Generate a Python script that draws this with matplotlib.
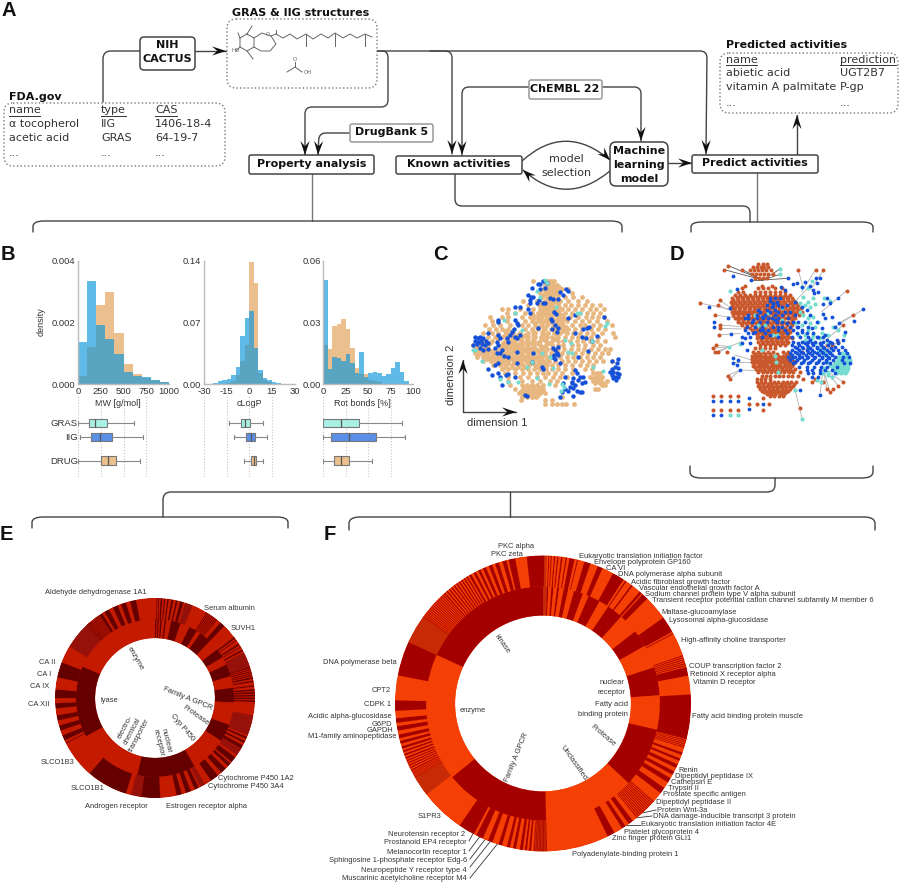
import numpy as np
import matplotlib
matplotlib.use('Agg')
import matplotlib.pyplot as plt
from matplotlib.patches import FancyBboxPatch, Polygon, PathPatch
from matplotlib.path import Path

W, H = 900, 884
plt.rcParams['font.family'] = ['Liberation Sans', 'DejaVu Sans']

TAN = '#ecc08e'
BLUE = '#0a96dc'
DOT_TAN = '#e8b67f'
DOT_BLUE = '#1450d8'
DOT_CYAN = '#74dccf'
DOT_ORANGE = '#c9582c'

# ---- panel B data
mw_edges = list(range(0, 1000, 100))
mw_blue = [.00135, .00333, .0019, .00145, .00098, .0004, .00025, .00022, .00013, .00005]
mw_tan = [.00027, .0012, .00257, .00297, .00165, .00065, .00032, .0002, .00013, .00005]
logp_edges = list(range(-27, 24, 3))
logp_blue = [.0005, .001, .003, .005, .006, .010, .019, .054, .0745, .0825, .041, .016, .0065, .0045, .002, .001, .0005]
logp_tan = [0, 0, 0, 0, .001, .003, .010, .0265, .044, .139, .115, .012, .004, .002, 0, 0, 0]
rot_edges = list(range(0, 100, 5))
rot_blue = [.0506, .0073, .013, .0125, .0113, .0146, .01, .0055, .0157, .0036, .0052, .0057, .0052, .004, .0049, .0076, .0105, .006, .0015, 0]
rot_tan = [.019, .017, .028, .029, .0316, .027, .0174, .008, .005, .005, .002, .0015, .001, 0, 0, 0, 0, 0, 0, 0]

box_names = ['GRAS', 'IIG', 'DRUG']
box_colors = ['#a8f0e4', '#5a90e8', '#ecc08e']
box_row = [0, 1, 2.7]
# each row: low whisker, q1, median, q3, high whisker
mw_box = [[0, 120, 190, 320, 610], [20, 145, 240, 375, 710], [0, 250, 325, 420, 680]]
logp_box = [[-13.4, -5.5, -2.6, 0.5, 9], [-10, -2, 1, 3.8, 12], [-3.7, 1, 3, 4.4, 9]]
rot_box = [[0, 0, 19.4, 39.5, 87], [0, 8.6, 28, 59, 90.7], [0, 12, 19.4, 28.7, 53.7]]

# ---- panel C data: {dimension-2 value: [dimension-1 values]}
c_tan = {
 32: [203, 250, 258, 268], 44: [240, 255, 265, 275], 56: [235, 250, 262, 275, 290, 310],
 68: [225, 245, 260, 272, 320], 80: [232, 250, 265, 300, 325, 352],
 92: [175, 215, 240, 255, 270, 285, 310, 338, 365],
 104: [190, 222, 238, 250, 262, 280, 300, 318, 340, 360, 380, 405],
 116: [110, 130, 165, 205, 225, 240, 255, 270, 290, 310, 330, 352, 375, 392, 418],
 128: [125, 150, 180, 200, 220, 235, 250, 265, 282, 300, 320, 345, 365, 385, 405],
 140: [75, 110, 130, 170, 195, 215, 232, 248, 262, 280, 295, 315, 340, 362, 380, 400, 418],
 152: [80, 100, 125, 180, 200, 220, 238, 255, 272, 288, 305, 330, 352, 372, 395, 425],
 164: [60, 85, 105, 135, 170, 190, 210, 228, 245, 265, 280, 295, 320, 345, 360, 385, 405, 440],
 176: [72, 92, 112, 130, 180, 200, 220, 240, 258, 275, 290, 310, 330, 350, 378, 400, 420],
 188: [55, 80, 100, 125, 145, 165, 190, 210, 230, 250, 268, 285, 305, 325, 345, 365, 385, 410, 445],
 200: [70, 90, 110, 130, 150, 170, 190, 210, 228, 245, 262, 280, 300, 320, 340, 360, 378, 400, 450],
 212: [60, 80, 120, 135, 150, 170, 190, 208, 225, 242, 260, 278, 295, 315, 335, 355, 375, 395, 420],
 224: [25, 45, 70, 110, 125, 140, 155, 172, 190, 208, 225, 242, 260, 278, 295, 320, 340, 360, 385, 405],
 236: [30, 50, 70, 115, 130, 145, 160, 178, 195, 212, 228, 245, 262, 280, 298, 318, 338, 358, 378, 400, 420, 435],
 248: [30, 50, 70, 85, 105, 122, 138, 155, 172, 190, 208, 225, 240, 258, 275, 292, 310, 330, 350, 370, 390, 410, 430],
 260: [35, 55, 75, 95, 112, 128, 145, 162, 180, 198, 215, 232, 250, 268, 285, 305, 325, 345, 365, 385, 405],
 272: [55, 78, 98, 115, 130, 148, 165, 182, 200, 218, 235, 252, 270, 290, 310, 330, 350, 372, 392, 415, 440],
 284: [85, 105, 122, 140, 158, 175, 192, 210, 228, 245, 262, 280, 300, 320, 345, 365, 385],
 296: [110, 130, 150, 170, 190, 208, 225, 242, 260, 278, 300, 325, 360, 382],
 308: [120, 150, 175, 195, 215, 235, 250, 270, 290, 320, 385, 395, 405],
 320: [130, 165, 190, 215, 240, 265, 285, 305, 375, 390, 400, 410],
 332: [130, 170, 200, 225, 255, 275, 385, 395, 425],
 344: [135, 172, 185, 200, 215, 235, 270, 410, 420],
 356: [150, 175, 190, 205, 220, 235, 400, 390],
 368: [162, 180, 195, 210, 225, 240],
 380: [170, 185, 200, 212, 290],
 390: [168, 240, 262],
 402: [240, 262, 275, 290, 302, 328],
 # denser clusters
 38: [247, 262], 50: [245, 258, 270, 282], 62: [240, 255, 268], 74: [238, 252, 262, 278], 86: [245, 258, 272], 98: [230, 247, 265, 278],
 110: [230, 248, 262, 282], 122: [230, 245, 262, 278], 134: [205, 225, 242, 258, 275, 290], 146: [205, 225, 245, 265, 282, 300], 158: [210, 232, 250, 275, 292],
 170: [215, 235, 270, 285, 302], 182: [120, 140, 205, 235, 270, 298], 194: [120, 140, 160, 180, 205, 240, 275], 206: [100, 125, 145, 165, 185, 205, 235, 270],
 218: [35, 55, 75, 115, 130, 148, 165, 182, 200, 220, 250], 230: [35, 60, 105, 120, 137, 152, 168, 185, 205, 235], 242: [40, 60, 80, 97, 112, 130, 148, 165, 182, 200, 220, 235],
 254: [40, 62, 85, 102, 118, 135, 152, 170, 188, 205, 222, 238, 262], 266: [65, 88, 105, 122, 140, 155, 172, 190, 208, 228, 245], 278: [92, 110, 128, 148, 168, 188, 205, 222, 240], 290: [120, 140, 160, 180, 215, 235],
 350: [178, 192, 208, 226], 362: [168, 185, 200, 215, 232], 374: [175, 190, 205, 220], 326: [385, 398, 408], 338: [390, 405, 415],
}
c_blue = [(235,32),(225,42),(245,38),(218,42),(200,54),(240,55),(225,58),(303,58),(310,62),(285,65),(295,75),(190,75),(198,82),(205,80),(195,90),(255,85),(265,88),(278,88),(222,90),(195,100),(235,98),(240,100),(215,100),(268,125),(272,132),(258,148),(262,152),(150,112),(165,112),(190,118),(195,130),(98,150),(100,155),(150,150),(155,158),(160,165),(148,178),(140,185),(135,195),(125,205),(165,195),(150,200),(155,205),(270,165),(278,175),(262,178),(275,185),(218,175),(310,145),(330,135),(355,178),(365,175),(372,172),(330,190),(350,200),(362,205),(395,197),(380,212),(418,140),
 (30,200),(38,205),(45,200),(55,205),(40,215),(30,212),(50,222),(60,225),(70,220),(45,235),(55,240),(68,238),(25,225),(68,190),(100,195),(105,205),(95,215),(100,225),(90,235),(110,240),(95,250),(105,248),(118,258),(130,215),(36,222),(62,212),(48,212),
 (270,240),(275,248),(268,255),(262,262),(280,255),(270,268),(265,235),(278,232),(205,248),(155,245),(130,260),(100,280),(90,285),(70,298),(80,315),(105,320),(122,315),(128,312),(150,320),(110,345),(100,310),(155,280),(230,292),(235,298),(285,280),(200,275),(370,242),(340,260),(440,272),(460,268),
 (300,320),(295,340),(330,300),(335,310),(345,320),(325,325),(355,320),(340,330),(360,335),(320,340),(330,345),(315,350),(325,355),(335,362),(345,365),(310,362),(350,365),(325,378),(290,365),(300,358),(285,380),(322,335),(350,340),
 (440,298),(450,290),(460,295),(445,305),(455,310),(462,312),(440,315),(450,320),(458,322),(445,325),(435,305),(452,330),(456,280),(185,378),(180,375)]
c_cyan = [(240,30),(245,40),(215,62),(225,80),(272,110),(150,128),(118,150),(335,128),(345,130),(425,160),(420,168),(172,180),(300,210),(318,218),(310,245),(320,250),(255,262),(230,250),(202,275),(185,290),(265,295),(30,240),(25,240),(50,272),(105,328),(130,335),(158,335),(252,342),(290,342),(298,350),(288,362),(383,292),(415,302),(382,212),(215,325)]

# ---- panel D data: nodes and edges of the network
d_orange_rows = {
 28: [190,203,215], 36: [175,185,197,208,220], 46: [165,178,190,202,214,228,88,310,385],
 58: [170,182,195,207,220,233], 70: [180,192,205,216], 92: [150,200,230],
 100: [140,190,205,218,240,260], 110: [130,145,180,195,210,225,240,255,270],
 120: [120,135,150,165,180,195,210,225,240,255,270,285], 130: [112,125,140,155,170,185,200,215,230,245,260,275,290],
 140: [108,120,135,150,165,180,195,210,225,240,255,270,285,300], 150: [68,112,125,140,155,170,185,200,215,230,245,260,280,295,310],
 160: [108,120,135,150,165,180,195,210,225,240,255,270,285,300,318], 170: [112,125,140,155,170,185,200,215,230,245,260,275,290,305,320],
 180: [60,115,130,145,160,175,190,205,220,235,250,265,280,295,312,475], 190: [120,135,150,165,180,195,210,225,240,255,270,285,300],
 200: [130,145,160,175,190,205,220,235,250,265,280,295], 210: [75,140,155,170,185,200,215,230,245,260,275,290,445],
 220: [75,150,165,180,195,210,225,240,255,270,285], 230: [180,195,210,225,240,255,270,285], 240: [72,185,200,215,230,245,260,275],
 250: [185,200,215,230,245,260,275,290], 260: [190,205,220,235,250,265,280,430], 270: [62,195,210,225,240,255,270,395,410],
 280: [55,180,195,210,225,240,340], 292: [60,70,95,175,190,205,220,235,265,280,320], 302: [172,185,198,211,224,237,250,263,276,289],
 312: [170,183,196,209,222,235,248,261,274,287], 322: [172,185,198,211,224,237,250,263,276,289,300], 332: [175,188,201,214,227,240,253,266,279,292],
 342: [182,195,208,221,234,247,260,273,286,299,425], 352: [190,203,216,229,242,255,268,281,294,315], 362: [98,200,213,226,239,252,265,278,291,310],
 372: [105,185,198,211,224,325,360], 382: [185,198,211,224,237,250,263,276,289,302,352,385,445], 392: [190,203,216,229,242,255,268,281,294,430],
 402: [195,208,221,234,247,260,273,286,395,415], 412: [208,221,234,247,260,273,405], 422: [225,238,251,264,54,79,104,129],
 447: [163,187,223], 430: [205], 464: [54,79,104,129,205], 460: [315],
 32: [100], 44: [142,362], 107: [455], 135: [75], 144: [14],
 # fill between the rows
 125: [128,143,158,173,188,203,218,233,248,263,278], 135.5: [115,130,145,160,175,190,205,220,235,250,265,280,295], 145: [118,133,148,163,178,193,208,223,238,253,268,288,303],
 155: [118,133,148,163,178,193,208,223,238,253,270,290,305], 165: [118,133,148,163,178,193,208,223,238,253,265,280,295,310], 175: [120,135,150,165,180,195,210,225,240,255,270,285,300],
 185: [128,143,158,173,188,203,218,233,248,263,290], 195: [128,143,158,173,188,203,218,233,248,263,290], 205: [138,153,168,183,198,213,228,243,258,273,288], 225: [172,188,203,218,233,248,263,278],
 235: [190,205,220,235,250,265,280], 245: [192,207,222,237,252,267,282], 255: [197,212,227,242,257,272], 265: [200,215,230,245,260,275], 297: [180,195,210,225,245,272,285],
 307: [178,191,204,217,230,243,256,269,282], 317: [176,189,202,215,228,241,254,267,280,293], 327: [178,191,204,217,230,243,256,269,282,295], 337: [181,194,207,220,233,246,259,272,285], 347: [188,201,214,227,240,253,266,279,292],
 387: [192,205,218,231,244,257,270,283,296], 397: [196,209,222,235,248,261,274,287], 407: [201,214,227,240,253,266,279], 417: [215,228,241,254,267],
}
d_blue_rows = {
 255: [345,395,425,445], 265: [310,330,350,375,410,430,165], 275: [300,320,340,365,385,420,440],
 285: [292,312,335,352,375,395,415,430,450,155], 295: [285,305,325,345,365,385,405,432,455], 305: [280,300,320,340,360,380,400,420,445,462],
 315: [285,305,328,350,372,392,415,440,128], 325: [295,318,340,362,385,405,448,465,115], 335: [312,335,358,378,395,425], 345: [335,352,375,390,410,135],
 355: [340,355,375,420], 365: [350,370], 437: [54,79,104,129], 479: [54,79], 430: [163], 462: [163], 447: [205],
 260: [295,320,340,360,385,405], 270: [290,312,335,355,378,400], 280: [305,325,345,365,388,408], 290: [300,318,338,358,380,402], 300: [292,312,332,352,372,392,412], 310: [292,312,335,358,380,402], 320: [300,325,345,368,392],
 130: [225,240,255], 150: [215,235,250,275], 170: [195,225,250,285], 180: [160,185,210,240,262,300], 190: [150,185,205,230,250,280], 200: [170,195,215,245,310], 215: [155,180,200,235,262,285,305,340], 225: [150,195,220,250,295,320], 235: [160,175,210,275,305,335,355], 245: [140,165,200,250,315,340,365,385],
}
d_blue_extra = [(279,70),(295,88),(305,85),(330,82),(320,95),(362,68),(375,70),(365,85),(345,92),(355,105),(370,112),(358,115),(397,128),(385,148),(405,145),(428,128),(478,198),(505,163),(433,203),(420,215),
 (115,63),(168,75),(127,102),(257,95),(270,105),(225,138),(235,145),(245,142),(230,155),(215,165),(240,165),(260,155),(270,170),(190,165),(160,190),(175,195),(200,185),(220,190),(240,195),(260,200),(275,205),(295,200),(310,215),(300,140),(320,155),(335,165),(345,180),(330,200),(320,230),(350,220),(365,200),(380,220),(370,245),(390,240),(150,250),(140,265),(180,230),(205,225),(225,240),(250,215),(270,225),(290,245),(115,308),(127,330),(58,200),(58,215),(98,190),(105,160),(43,155),(108,238),(375,420),(315,405),(385,178),(390,190),(410,185),(450,232)]
d_cyan = [(440,295),(452,295),(425,305),(435,305),(452,305),(430,315),(440,315),(455,315),(465,315),(420,325),(432,325),(442,325),(455,325),(412,335),(425,335),(438,335),(450,335),(418,345),(430,345),(442,345),(455,345),(425,355),(438,355),(450,355),(370,280),(385,280),(360,265),(400,265),(350,250),(375,250),(390,300),(395,320),(388,340),
 (445,300),(460,300),(433,310),(447,310),(460,310),(425,320),(437,320),(450,320),(462,320),(418,330),(430,330),(445,330),(458,330),(420,340),(435,340),(448,340),(460,340),(428,350),(440,350),(452,350),(405,290),(390,290),(370,290),(400,310),(405,330),(400,350),(385,355),(400,360),(410,365),
 (340,140),(355,130),(325,125),(330,150),(345,155),(315,170),(325,180),(345,205),(360,215),(340,225),(355,240),(330,255),(310,240),(370,200),(380,235),(400,240),
 (255,42),(255,58),(105,108),(352,78),(322,95),(340,100),(387,128),(405,138),(360,148),(315,145),(340,190),(355,185),(300,205),(320,210),(330,240),(262,158),(220,175),(190,210),(235,240),(245,240),(200,285),(240,302),(243,320),(250,350),(103,275),(135,268),(300,405),(322,493),(415,215),(430,225),(448,240),(378,380),(365,375),(180,180),(210,210),(260,195),(104,479),(129,479)]
d_edges = [((203,75),(100,32)),((203,75),(88,44)),((203,75),(142,44)),((203,75),(255,58)),((203,75),(279,70)),((203,75),(168,75)),((203,75),(255,42)),
 ((14,144),(115,165)),((60,180),(130,190)),((75,135),(115,165)),((68,150),(125,175)),((75,210),(140,215)),((72,240),(135,235)),((75,220),(140,222)),
 ((103,275),(62,270)),((103,275),(55,280)),((103,275),(70,292)),((103,275),(60,292)),((103,275),(140,260)),
 ((135,345),(98,362)),((135,345),(105,372)),((135,345),(190,347)),((455,107),(380,170)),((505,163),(420,215)),((475,180),(430,205)),((322,493),(300,405)),
 ((345,92),(290,150)),((385,46),(350,100)),((362,44),(320,110)),((310,46),(325,100)),((385,340),(375,420)),((385,340),(405,412)),((385,340),(430,392)),((385,340),(445,382)),((385,340),(395,402)),
 ((430,260),(370,300)),((445,210),(375,270)),((200,190),(235,215)),((165,170),(205,200)),((225,215),(260,240)),((180,215),(215,245)),((120,300),(170,315)),((115,320),(170,320))]

# ---- panel E data: ring segments, as (start angle, [(size, kind), ...])
e_inner = [(0, [(1.2,'D'),(.8,'L'),(1,'D'),(1,'L'),(1.2,'D'),(2,'L'),(1.2,'D'),(3.6,'L'),(7,'D'),(7,'L'),(6,'D'),(3,'L'),(9,'D'),(8,'L'),(7,'D'),(6,'L'),(9,'D'),(8.6,'L'),(10.8,'D'),(16.6,'L'),(13,'D'),(27,'L'),(43,'D'),(48,'L'),(52.5,'D'),(66.5,'L')])]
e_outer = [
 (0, [(1,'L'),(.5,'D'),(.5,'L'),(.5,'D'),(.8,'L'),(1,'D'),(1,'L'),(.7,'D'),(1.2,'L'),(.8,'D'),(1.5,'L'),(1.2,'D'),(1.5,'L'),(1,'D'),(1.5,'L'),(2,'D'),(1,'L'),(4.5,'M'),(7,'L')]),
 (31, [(.5,'D'),(.5,'L')]*8 + [(2,'L'),(3,'D'),(5,'L')]),
 (52, [(.5,'L'),(1,'D'),(1,'L'),(.5,'D'),(2,'L'),(1,'D'),(1,'L'),(.5,'D'),(1.5,'L'),(1,'D'),(1,'L')]),
 (63, [(9,'M')] + [(.6,'D'),(.6,'L')]*5 + [(1,'D'),(1,'L'),(.8,'D'),(2,'L'),(.7,'D'),(3,'L')]),
 (85, [(1,'D'),(.6,'L'),(1,'D'),(.6,'L'),(1,'D'),(.6,'L'),(1,'D'),(.6,'L'),(1,'D'),(6,'L')]),
 (100, [(12,'M'),(1,'L'),(1.2,'D'),(1.5,'L'),(1.2,'D'),(1.5,'L'),(2,'D'),(1,'M'),(3.6,'M'),(1.5,'L'),(3.5,'D'),(1,'L'),(2,'D'),(2,'L'),(3.5,'D'),(4,'L')]),
 (141, [(5,'D'),(4,'L'),(3,'M'),(1,'L'),(2.5,'D'),(2.5,'L'),(3,'D'),(2.5,'L'),(3,'D'),(3.5,'L'),(6,'L'),(11,'D'),(6,'M'),(3,'L')]),
 (197, [(24,'D'),(22,'L'),(.5,'D'),(1.5,'L'),(3,'D'),(3,'L'),(3,'D'),(3,'L'),(3,'D'),(4,'L'),(3,'D'),(3,'L'),(5,'D'),(7,'L'),(9,'D'),(10,'L'),(19,'M')]),
 (317, [(.35,'D'),(.35,'L')]*13 + [(2,'D'),(1.5,'L'),(3,'D'),(2.5,'L'),(3,'D'),(2,'L'),(3,'D'),(2.5,'L'),(3.5,'D'),(11.4,'L')]),
]

# ---- panel F data
f_inner = [(0, [(2,'M'),(.7,'D'),(1.5,'L'),(1,'D'),(1.8,'L'),(1,'D'),(2.3,'L'),(2.2,'D'),(3,'L'),(4.5,'D'),(3,'L'),(6,'D'),(5,'L'),(8,'D'),(10,'L'),(8.5,'D'),(11.5,'L'),(14,'D'),(17,'L'),(30,'D'),(45.5,'L'),(52.5,'D'),(63.6,'L'),(65.4,'D')])]
f_outer = [
 (0, [(1.5,'M'),(.6,'L'),(.4,'D'),(.6,'L'),(.4,'D'),(.8,'L'),(.5,'D'),(.8,'L'),(.5,'D'),(1,'L'),(.6,'D'),(1.2,'L'),(.5,'D'),(1,'L'),(2,'D'),(1,'L'),(.4,'D'),(2.5,'L'),(2.5,'D'),(3,'L'),(2,'D'),(4.5,'L'),(4.8,'D'),(.8,'L'),(.5,'D'),(2.3,'L'),(.7,'D'),(3.5,'L'),(1,'D'),(.5,'L'),(2.5,'D'),(9.5,'L')]),
 (54.5, [(6.5,'D'),(.6,'L'),(.4,'D'),(9,'L')]),
 (71, [(.4,'D'),(.4,'L')]*6 + [(3.4,'D'),(7.5,'L')]),
 (86.5, [(17.2,'D')]),
 (103.7, [(.35,'D'),(.35,'L')]*6 + [(1.5,'L'),(1,'D'),(1.5,'L'),(1,'D'),(1.5,'L'),(1.5,'D'),(1.5,'L'),(1.5,'D'),(1.5,'L'),(2,'D'),(2.5,'L'),(2.5,'D'),(4,'L')]),
 (131.5, [(.4,'D'),(.4,'L')]*12 + [(1.5,'L'),(2,'D'),(1.5,'L'),(1.6,'D'),(3.4,'L'),(3,'D'),(24.5,'L')]),
 (178.5, [(.3,'D'),(.3,'M')]*9 + [(.8,'L'),(.8,'D'),(.8,'L'),(.8,'D'),(.8,'L'),(1.2,'D'),(1.5,'L'),(1.2,'D'),(1.2,'L'),(1.2,'D'),(2,'L'),(1.4,'D'),(2.5,'L'),(1.8,'D'),(2.2,'L'),(2.8,'D'),(1,'L'),(6.5,'D'),(17,'L')]),
 (232, [(8,'M')] + [(.3,'D'),(.3,'L')]*5 + [(.5,'D'),(.5,'L')]*5 + [(.7,'D'),(.7,'L')]*3 + [(1,'D'),(1,'L'),(1.2,'D'),(1,'L'),(1.5,'D'),(1.5,'L'),(1.8,'D'),(1.3,'L'),(1.8,'D'),(3.9,'L')]),
 (267.2, [(4.1,'D'),(9.7,'L'),(13.6,'D'),(11.4,'M')]),
 (306, [(.4,'D'),(.4,'L')]*15 + [(.6,'D'),(.6,'L')]*10 + [(1,'D'),(1,'L')]*3 + [(1.3,'D'),(1.2,'L'),(1.4,'D'),(1.2,'L'),(1.5,'D'),(1.5,'L'),(1.6,'D'),(.8,'L'),(2.7,'D'),(4.5,'L'),(6.7,'D')]),
]

# ---- labels
e_labels = [('Aldehyde dehydrogenase 1A1',96,592,'center'),('Serum albumin',204,608,'left'),('SUVH1',231,628,'left'),('CA II',55,662,'right'),('CA I',51,674,'right'),('CA IX',49,686,'right'),('CA XII',49,705,'right'),('SLCO1B3',74,763,'right'),('SLCO1B1',104,788,'right'),('Androgen receptor',116,806,'center'),('Estrogen receptor alpha',206,806,'center'),('Cytochrome P450 1A2',218,779,'left'),('Cytochrome P450 3A4',208,787,'left')]
e_inner_labels = [('enzyme',135,659,-60),('lyase',109,700,0),('electro-\nchemical\ntransporter',132,731,62),('nuclear\nreceptor',162,742,-76),('Cyp P450',182,727,-50),('Protease',196,715,-35),('Family A GPCR',188,699,-22)]
f_labels = [('PKC alpha',516,546,'center'),('PKC zeta',507,555,'center'),('DNA polymerase beta',397,663,'right'),('CPT2',391,691,'right'),('CDPK 1',391,705,'right'),('Acidic alpha-glucosidase',392,716,'right'),('G6PD',392,724,'right'),('GAPDH',393,731,'right'),('M1-family aminopeptidase',396,737,'right'),('S1PR3',441,816,'right'),
 ('Neurotensin receptor 2',465,834,'right'),('Prostanoid EP4 receptor',467,843,'right'),('Melanocortin receptor 1',467,852,'right'),('Sphingosine 1-phosphate receptor Edg-6',467,861,'right'),('Neuropeptide Y receptor type 4',467,870,'right'),('Muscarinic acetylcholine receptor M4',467,879,'right'),
 ('Polyadenylate-binding protein 1',572,854,'left'),('Zinc finger protein GLI1',612,839,'left'),('Platelet glycoprotein 4',624,833,'left'),('Eukaryotic translation initiation factor 4E',641,825,'left'),('DNA damage-inducible transcript 3 protein',653,817,'left'),('Protein Wnt-3a',657,810,'left'),('Dipeptidyl peptidase II',656,803,'left'),('Prostate specific antigen',663,795,'left'),('Trypsin II',668,788,'left'),('Cathepsin E',671,782,'left'),('Dipeptidyl peptidase IX',675,776,'left'),('Renin',678,770,'left'),
 ('Fatty acid binding protein muscle',692,716,'left'),('Vitamin D receptor',693,683,'left'),('Retinoid X receptor alpha',690,674,'left'),('COUP transcription factor 2',689,667,'left'),('High-affinity choline transporter',681,641,'left'),('Lysosomal alpha-glucosidase',669,621,'left'),('Maltase-glucoamylase',661,612,'left'),('Transient receptor potential cation channel subfamily M member 6',652,601,'left'),('Sodium channel protein type V alpha subunit',645,594,'left'),('Vascular endothelial growth factor A',639,588,'left'),('Acidic fibroblast growth factor',631,582,'left'),('DNA polymerase alpha subunit',618,575,'left'),('CA VI',606,569,'left'),('Envelope polyprotein GP160',594,563,'left'),('Eukaryotic translation initiation factor',579,556,'left')]
f_inner_labels = [('kinase',502,644,-55),('enzyme',473,710,0),('Family A GPCR',517,757,68),('Unclassified',573,763,-55),('Protease',603,736,-40)]


def add_ax(x, y, w, h, **kw):
    return plt.gcf().add_axes([x / W, 1 - (y + h) / H, w / W, h / H], **kw)


fig = plt.figure(figsize=(9, 8.84), dpi=100)
ov = fig.add_axes([0, 0, 1, 1])
ov.set_xlim(0, W)
ov.set_ylim(H, 0)
ov.axis('off')

LC = '#444444'


def rounded(pts, r=8):
    verts, codes = [pts[0]], [Path.MOVETO]
    for i in range(1, len(pts) - 1):
        p0, p1, p2 = [np.array(p, float) for p in pts[i - 1:i + 2]]
        a = p1 - p0
        b = p2 - p1
        ra = min(r, np.linalg.norm(a) / 2)
        rb = min(r, np.linalg.norm(b) / 2)
        verts += [tuple(p1 - a / np.linalg.norm(a) * ra), tuple(p1), tuple(p1 + b / np.linalg.norm(b) * rb)]
        codes += [Path.LINETO, Path.CURVE3, Path.CURVE3]
    verts.append(pts[-1])
    codes.append(Path.LINETO)
    return Path(verts, codes)


def line(pts, r=8, color=LC, lw=1.0):
    ov.add_patch(PathPatch(rounded(pts, r), fill=False, ec=color, lw=lw, capstyle='round'))


def head(tip, frm, L=14, w=4.6):
    tip = np.array(tip, float)
    d = tip - np.array(frm, float)
    d /= np.linalg.norm(d)
    n = np.array([-d[1], d[0]])
    ov.add_patch(Polygon([tip, tip - d * L + n * w, tip - d * L * .62, tip - d * L - n * w], closed=True, fc='#111111', ec='none', zorder=5))


def arrow(pts, r=8):
    line(pts, r)
    head(pts[-1], pts[-2])


def box(x0, y0, x1, y1, ls='-', ec='#444444', lw=1.1, r=4):
    ov.add_patch(FancyBboxPatch((x0, y0), x1 - x0, y1 - y0, boxstyle=f'round,pad=0,rounding_size={r}', fc='white', ec=ec, lw=lw, ls=ls, zorder=3))


def txt(x, y, s, size=8, w='normal', c='#333333', ha='left', rot=0, fam='DejaVu Sans', **kw):
    ov.text(x, y, s, fontsize=size, fontweight=w, color=c, ha=ha, va='center', rotation=rot, family=fam, zorder=6, rotation_mode='anchor' if rot else 'default', **kw)


def btxt(x, y, s, size=8, ha='center'):
    txt(x, y, s, size=size, w='bold', c='#111111', ha=ha)


# --- connectors
line([(103, 102), (103, 51), (140, 51)])
arrow([(195, 51), (226, 51)])
arrow([(377, 51), (707, 51), (706, 154)], r=7)
arrow([(377, 51), (388, 51), (388, 107), (305, 107), (305, 155)], r=7)
arrow([(430, 51), (452, 51), (452, 154)], r=7)
arrow([(350, 133), (319, 133), (318, 155)], r=7)
arrow([(529, 87), (462, 87), (462, 155)], r=7)
arrow([(602, 87), (641, 87), (641, 141)], r=7)
arrow([(668, 163), (692, 163)])
arrow([(797, 155), (797, 115)])
# model selection loop
ov.add_patch(PathPatch(Path([(522, 161), (565, 122), (610, 160)], [Path.MOVETO, Path.CURVE3, Path.CURVE3]), fill=False, ec=LC, lw=1.0))
head((610, 160), (598, 148), L=13)
ov.add_patch(PathPatch(Path([(610, 171), (565, 208), (523, 170)], [Path.MOVETO, Path.CURVE3, Path.CURVE3]), fill=False, ec=LC, lw=1.0))
head((523, 170), (535, 181), L=13)
line([(455, 174), (455, 206), (750, 206), (750, 222)], r=7)
line([(312, 174), (312, 221)], color='#777777')
line([(757, 173), (757, 221)], color='#777777')
# brackets
line([(33, 232), (33, 221), (622, 221), (622, 232)], r=11)
line([(691, 232), (691, 222), (873, 222), (873, 232)], r=11)
line([(690, 466), (690, 478), (873, 478), (873, 466)], r=11)
line([(775, 478), (775, 492), (163, 492), (163, 517)], r=8)
line([(32, 528), (32, 517), (288, 517), (288, 528)], r=11)
line([(349, 530), (349, 517), (875, 517), (875, 530)], r=11)
line([(510, 492), (510, 517)], r=0)

# --- boxes
box(4, 103, 225, 166, ls=':', ec='#777777', lw=1.0, r=9)
box(227, 19, 377, 88, ls=':', ec='#777777', lw=1.0, r=9)
box(720, 53, 898, 113, ls=':', ec='#777777', lw=1.0, r=9)
box(140, 37, 195, 70)
box(350, 124, 433, 142, ec='#999999', r=2)
box(529, 80, 602, 99, ec='#999999', r=2)
box(249, 155, 374, 174, r=2)
box(396, 156, 522, 174, r=2)
box(610, 142, 668, 186, r=6)
box(692, 155, 818, 173, r=2)

# --- table texts
btxt(9, 97, 'FDA.gov', ha='left')
btxt(232, 12.5, 'GRAS & IIG structures', ha='left')
btxt(726, 45, 'Predicted activities', ha='left')
btxt(167, 45, 'NIH')
btxt(167, 59, 'CACTUS')
btxt(392, 132, 'DrugBank 5')
btxt(312, 164, 'Property analysis')
btxt(459, 164, 'Known activities')
btxt(639, 151, 'Machine')
btxt(639, 165, 'learning')
btxt(639, 179, 'model')
btxt(755, 163, 'Predict activities')
btxt(565, 89, 'ChEMBL 22')
txt(566, 159, 'model', ha='center')
txt(566, 173, 'selection', ha='center')
for x, s in [(9, 'name'), (101, 'type'), (155, 'CAS')]:
    txt(x, 110, s)
for x0, x1 in [(9, 40), (101, 126), (155, 177)]:
    ov.plot([x0, x1], [115.5, 115.5], color='#333333', lw=.7, zorder=6)
for y, row in [(124, ('α tocopherol', 'IIG', '1406-18-4')), (138, ('acetic acid', 'GRAS', '64-19-7')), (153, ('...', '...', '...'))]:
    for x, s in zip((9, 101, 155), row):
        txt(x, y, s)
for x, s in [(726, 'name'), (840, 'prediction')]:
    txt(x, 60, s)
for x0, x1 in [(726, 757), (840, 896)]:
    ov.plot([x0, x1], [65, 65], color='#333333', lw=.7, zorder=6)
for y, row in [(73, ('abietic acid', 'UGT2B7')), (87, ('vitamin A palmitate', 'P-gp')), (103, ('...', '...'))]:
    for x, s in zip((726, 840), row):
        txt(x, y, s)

for s, x, y in [('A', 1, 10), ('B', 1, 255), ('C', 433, 255), ('D', 670, 255), ('E', 0, 534), ('F', 324, 534)]:
    txt(x, y, s, size=14.5, w='bold', c='#111111', fam='Liberation Sans')

# --- molecule sketch
mc = '#666666'
mol = [
 [(247, 34), (240, 38), (240, 47), (247, 51), (254, 47), (254, 38), (247, 34)],
 [(254, 38), (262, 33), (271, 36), (276, 44), (270, 51), (261, 51), (254, 47)],
 [(247, 34), (252, 26)], [(240, 38), (238, 33)], [(240, 47), (236, 51)], [(247, 51), (253, 59)],
 [(276, 34), (283, 38), (290, 34), (297, 39), (306, 34), (313, 39), (321, 34), (328, 38), (335, 33), (343, 38), (350, 34), (357, 38), (365, 34), (372, 37)],
 [(306, 34), (306, 46)], [(335, 33), (335, 46)], [(365, 34), (365, 46)], [(276, 34), (276, 30)], [(271, 36), (276, 34)],
 [(287, 72), (295, 67), (302, 72)], [(295, 67), (295, 62)],
]
for seg in mol:
    xs, ys = zip(*seg)
    ov.plot(xs, ys, color=mc, lw=.7, zorder=4)
txt(232, 51, 'HO', size=4, c=mc)
txt(295, 59.5, 'O', size=4, c=mc, ha='center')
txt(304, 73, 'OH', size=4, c=mc)
txt(268, 34, 'O', size=4, c=mc, ha='center')

# --- panel B histograms
hist_defs = [
 (78, 91, mw_edges, mw_blue, mw_tan, 100, (0, 1000), [0, 250, 500, 750, 1000], ['0', '250', '500', '750', '1000'], .004, ['0.000', '0.002', '0.004'], 'MW [g/mol]', 118, mw_box),
 (204, 90.6, logp_edges, logp_blue, logp_tan, 3, (-30, 30), [-30, -15, 0, 15, 30], ['-30', '-15', '0', '15', '30'], .14, ['0.00', '0.07', '0.14'], 'cLogP', 249, logp_box),
 (323.4, 90, rot_edges, rot_blue, rot_tan, 5, (0, 100), [0, 25, 50, 75, 100], ['0', '25', '50', '75', '100'], .06, ['0.00', '0.03', '0.06'], 'Rot bonds [%]', 362, rot_box),
]
for i, (x0, w, edges, blue, tan, bw, xl, xt, xtl, ymax, ytl, xlab, labx, stats) in enumerate(hist_defs):
    ax = add_ax(x0, 260.7, w, 123.3)
    ax.patch.set_alpha(0)
    ax.bar(edges, tan, width=bw, align='edge', color=TAN, lw=0)
    ax.bar(edges, blue, width=bw, align='edge', color=BLUE, alpha=.65, lw=0)
    ax.set_xlim(*xl)
    ax.set_ylim(0, ymax)
    ax.set_xticks(xt, xtl)
    ax.set_yticks([0, ymax / 2, ymax], ytl)
    ax.tick_params(length=0, labelsize=6.8, labelcolor='#333333', pad=2)
    for sp in ('top', 'right'):
        ax.spines[sp].set_visible(False)
    for sp in ('left', 'bottom'):
        ax.spines[sp].set_color('#bbbbbb')
        ax.spines[sp].set_linewidth(1.0)
    txt(labx, 404, xlab, size=6.5, ha='center', fam='Liberation Sans')
    if i == 0:
        txt(41.5, 322, 'density', size=6.5, rot=90, ha='center', fam='Liberation Sans')
    bx = add_ax(x0, 395, w, 82)
    bx.patch.set_alpha(0)
    s = [dict(whislo=a, q1=b, med=c, q3=d, whishi=e, fliers=[]) for a, b, c, d, e in stats]
    art = bx.bxp(s, positions=box_row, widths=.64, orientation='horizontal', patch_artist=True, showfliers=False,
                 boxprops=dict(edgecolor='#777777', linewidth=.8), medianprops=dict(color='#555555', linewidth=.9),
                 whiskerprops=dict(color='#888888', linewidth=.8), capprops=dict(color='#888888', linewidth=.8))
    for p, col in zip(art['boxes'], box_colors):
        p.set_facecolor(col)
    bx.set_xlim(*xl)
    bx.set_ylim(3.86, -2)
    bx.set_xticks(xt, [''] * 5)
    bx.grid(axis='x', ls=':', color='#c4c4c4', lw=.8)
    bx.set_axisbelow(True)
    for sp in bx.spines.values():
        sp.set_visible(False)
    if i == 0:
        bx.set_yticks(box_row, box_names)
        bx.tick_params(length=0, labelsize=6.8, labelcolor='#333333', pad=0)
    else:
        bx.set_yticks([])
        bx.tick_params(length=0)

# --- panel C scatter
cax = add_ax(465, 270, 170, 150)
cax.set_xlim(0, 510)
cax.set_ylim(450, 0)
cax.axis('off')
ct = np.array([(x, y) for y, xs in c_tan.items() for x in xs])
cb = np.array(c_blue)
cc = np.array(c_cyan)
cax.scatter(ct[:, 0], ct[:, 1], s=12, color=DOT_TAN, lw=0)
cax.scatter(cb[:, 0], cb[:, 1], s=10, color=DOT_BLUE, lw=0)
cax.scatter(cc[:, 0], cc[:, 1], s=9, color=DOT_CYAN, lw=0)
arrow([(463, 412), (463, 360)], r=0)
arrow([(463, 412), (516, 412)], r=0)
txt(451, 375, 'dimension 2', size=8, rot=90, ha='center', fam='Liberation Sans')
txt(497, 423, 'dimension 1', size=8, ha='center', fam='Liberation Sans')

# --- panel D network
dax = add_ax(695, 255, 175, 175)
dax.set_xlim(0, 525)
dax.set_ylim(525, 0)
dax.axis('off')
for (a, b) in d_edges:
    dark = a[0] > 160 and a[0] < 240 and a[1] > 60
    dax.plot([a[0], b[0]], [a[1], b[1]], color='#555555' if dark else '#b0b0b0', lw=.6, zorder=1)
dor = np.array([(x, y) for y, xs in d_orange_rows.items() for x in xs])
dbl = np.array([(x, y) for y, xs in d_blue_rows.items() for x in xs] + d_blue_extra)
dcy = np.array(d_cyan)
dax.scatter(dor[:, 0], dor[:, 1], s=8.5, color=DOT_ORANGE, lw=0, zorder=2)
dax.scatter(dcy[:, 0], dcy[:, 1], s=9, color=DOT_CYAN, lw=0, zorder=3)
dax.scatter(dbl[:, 0], dbl[:, 1], s=7.5, color=DOT_BLUE, lw=0, zorder=4)


# --- sunbursts
def sunburst(cx, cy, radii, inner, outer, cols):
    R = radii[2]
    ax = add_ax(cx - R, cy - R, 2 * R, 2 * R, projection='polar')
    ax.set_theta_zero_location('N')
    ax.set_theta_direction(-1)
    ax.set_rlim(0, R)
    ax.axis('off')
    ax.patch.set_alpha(0)
    ax.bar(0, radii[2] - radii[0], width=2 * np.pi, bottom=radii[0], align='edge', color=cols['L'], lw=0)
    for blocks, r0, r1 in ((inner, radii[0], radii[1]), (outer, radii[1], radii[2])):
        for start, segs in blocks:
            sizes = np.array([s for s, _ in segs])
            th = start + np.concatenate([[0], np.cumsum(sizes)[:-1]])
            c = [cols[k] for _, k in segs]
            ax.bar(np.radians(th), r1 - r0, width=np.radians(sizes), bottom=r0, align='edge', color=c, edgecolor=c, linewidth=.1)


sunburst(155, 698, (60, 79, 100), e_inner, e_outer, {'L': '#c41a00', 'D': '#650000', 'M': '#95110a'})
sunburst(543, 703.5, (88, 117, 148), f_inner, f_outer, {'L': '#f43f05', 'D': '#a50000', 'M': '#c82a06'})

for s, x, y, ha in e_labels + f_labels:
    txt(x, y, s, size=5.4, ha=ha, fam='Liberation Sans')
for s, x, y, rot in e_inner_labels + f_inner_labels:
    ov.text(x, y, s, fontsize=5.4, color='#333333', ha='center', va='center', rotation=rot, rotation_mode='anchor', family='Liberation Sans', zorder=6, linespacing=1.2)
txt(628, 705, 'Fatty acid', size=5.4, ha='right', fam='Liberation Sans')
txt(628, 714, 'binding protein', size=5.4, ha='right', fam='Liberation Sans')
txt(624, 683, 'nuclear', size=5.4, ha='right', fam='Liberation Sans')
txt(625, 692, 'receptor', size=5.4, ha='right', fam='Liberation Sans')
# leader lines
for seg in [((469, 841), (475, 830)), ((469, 851), (481, 835)), ((470, 859), (487, 837)), ((470, 867), (493, 838)), ((470, 878), (499, 842)),
            ((622, 825), (640, 825)), ((635, 818), (652, 816)), ((642, 813), (656, 810))]:
    xs, ys = zip(*seg)
    ov.plot(xs, ys, color='#333333', lw=.6, zorder=6)

fig.savefig('out.png', dpi=100)
